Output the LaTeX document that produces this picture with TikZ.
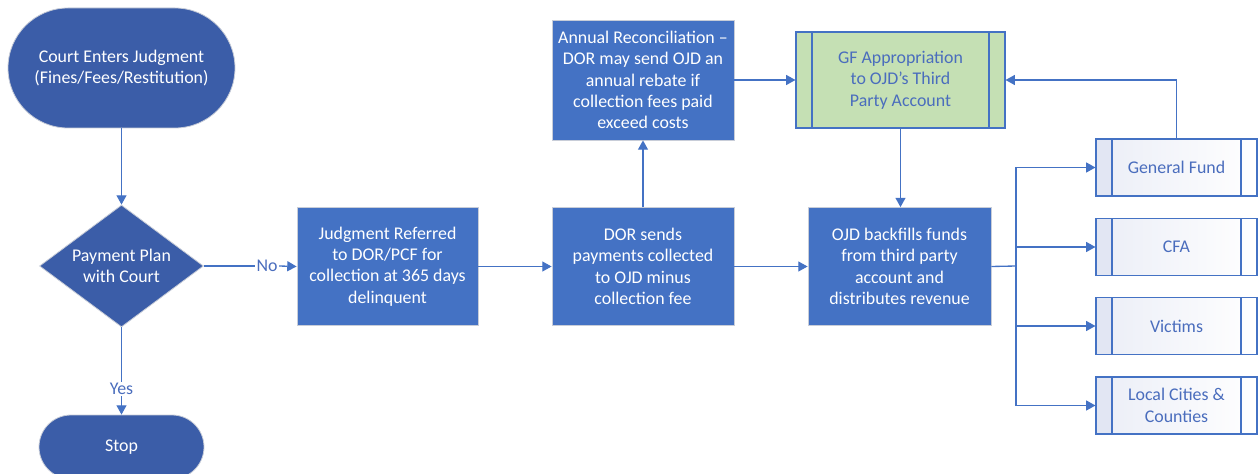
\documentclass[tikz,border=0pt]{standalone}
\usepackage{fontspec}
\setmainfont{Carlito}
\usetikzlibrary{shapes.geometric,arrows.meta}
\definecolor{termblue}{HTML}{3B5DA8}
\definecolor{boxblue}{HTML}{4472C4}
\definecolor{lineblue}{HTML}{4472C4}
\definecolor{edgegray}{HTML}{C8CDD8}
\definecolor{greenfill}{HTML}{C5E0B4}
\definecolor{labelblue}{HTML}{4A6DBD}
\definecolor{lav}{HTML}{E2E6F3}
\begin{document}
\begin{tikzpicture}[x=0.75pt,y=-0.75pt,
  font=\fontsize{13.4}{16}\selectfont,
  term/.style={draw=edgegray, line width=0.6pt, fill=termblue, text=white, align=center, inner sep=0pt},
  decis/.style={diamond, aspect=1.344, draw=edgegray, line width=0.6pt, fill=termblue, text=white, align=center, inner sep=0pt, minimum width=123pt, minimum height=91.5pt},
  proc/.style={draw=edgegray, line width=0.6pt, fill=boxblue, text=white, align=center, inner sep=0pt, minimum height=88.5pt},
  sub/.style={draw=lineblue, line width=0.8pt, text=labelblue, align=center, inner sep=0pt,
    path picture={
      \fill[#1] (path picture bounding box.north west) rectangle ([xshift=12pt]path picture bounding box.south west);
      \draw[lineblue, line width=0.8pt] ([xshift=12pt]path picture bounding box.north west) -- ([xshift=12pt]path picture bounding box.south west);
      \draw[lineblue, line width=0.8pt] ([xshift=-12pt]path picture bounding box.north east) -- ([xshift=-12pt]path picture bounding box.south east);}},
  dest/.style={sub=lav, left color=lav!70, right color=white, minimum width=120.75pt, minimum height=42.75pt},
  arr/.style={draw=lineblue, line width=1pt, -{Triangle[length=7pt,width=7.5pt]}},
  ln/.style={draw=lineblue, line width=1pt},
  lab/.style={fill=white, text=labelblue, inner sep=1pt}
]
\useasboundingbox (0,0) rectangle (1258,474);
\clip (0,0) rectangle (1258,474);

\node[term, minimum width=170.25pt, minimum height=90pt, rounded corners=45pt] (start) at (121.5,68) {Court Enters Judgment\\(Fines/Fees/Restitution)};
\node[decis] (plan) at (121.5,266) {Payment Plan\\with Court};
\node[term, minimum width=123.75pt, minimum height=48pt, rounded corners=24pt] (stop) at (121.5,447) {Stop};

\node[proc, minimum width=135.75pt] (refer) at (387.5,266.5) {Judgment Referred\\to DOR/PCF for\\collection at 365 days\\delinquent};
\node[proc, minimum width=136.5pt] (dor) at (643,266.5) {DOR sends\\payments collected\\to OJD minus\\collection fee};
\node[proc, minimum width=136.5pt, minimum height=90pt] (annual) at (643,80) {Annual Reconciliation --\\DOR may send OJD an\\annual rebate if\\collection fees paid\\exceed costs};
\node[proc, minimum width=137.25pt] (ojd) at (899.5,266.5) {OJD backfills funds\\from third party\\account and\\distributes revenue};
\node[sub=greenfill, fill=greenfill, minimum width=156.75pt, minimum height=72pt] (gfapp) at (900.5,80) {GF Appropriation\\to OJD’s Third\\Party Account};

\node[dest] (gf) at (1176.5,167.5) {General Fund};
\node[dest] (cfa) at (1176.5,247) {CFA};
\node[dest] (vic) at (1176.5,326) {Victims};
\node[dest] (local) at (1176.5,405.5) {Local Cities \&\\Counties};

\node[lab] (no) at (267,266) {No};
\node[lab] (yes) at (121.5,389) {Yes};
\coordinate (bus) at (1016,266);

\draw[arr] (start) -- (plan);
\draw[ln] (plan.east) -- (no.west);
\draw[arr] (no.east) -- (refer.west);
\draw[ln] (plan.south) -- (yes.north);
\draw[arr] (yes.south) -- (stop.north);
\draw[arr] (refer.east) -- (dor.west);
\draw[arr] (dor.north) -- (annual.south);
\draw[arr] (annual.east) -- (gfapp.west);
\draw[arr] (gfapp.south) -- (gfapp.south |- ojd.north);
\draw[arr] (dor.east) -- (ojd.west);
\draw[ln] (ojd.east) -- (bus);
\draw[arr] (bus) |- (gf.west);
\draw[arr] (bus) |- (cfa.west);
\draw[arr] (bus) |- (vic.west);
\draw[arr] (bus) |- (local.west);
\draw[arr] (gf.north) |- (gfapp.east);
\end{tikzpicture}
\end{document}
